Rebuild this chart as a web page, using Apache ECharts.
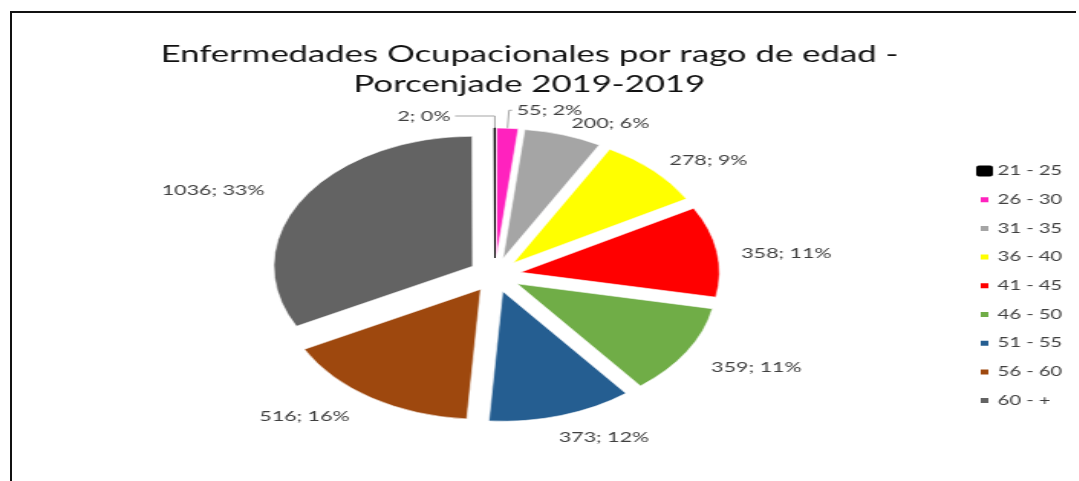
<!DOCTYPE html>
<html>
<head>
<meta charset="utf-8">
<script src="https://cdn.jsdelivr.net/npm/echarts@6/dist/echarts.min.js"></script>
<style>
  html, body { margin: 0; padding: 0; background: #fff; }
  #wrap { position: relative; width: 1079px; height: 481px; overflow: hidden; background: #fff; }
  /* the source picture is stretched sideways, so the chart is too */
  #chart { position: absolute; left: 0; top: 0; height: 481px; transform-origin: 0 0; }
  #frame { position: absolute; left: 10px; top: 11px; width: 1064px; height: 480px;
           border-top: 2px solid #111; border-left: 2px solid #111; }
</style>
</head>
<body>
<div id="wrap">
  <div id="frame"></div>
  <div id="chart"></div>
</div>
<script>
(function(){
    //datos del grafico
    var rangos = ['21 - 25', '26 - 30', '31 - 35', '36 - 40', '41 - 45', '46 - 50', '51 - 55', '56 - 60', '60 - +'];
    var casos = [2, 55, 200, 278, 358, 359, 373, 516, 1036];
    var colores = ['#000000', '#FF22BE', '#A5A5A5', '#FFFF00', '#FF0000', '#70AD47', '#255E91', '#9E480E', '#636363'];
    var titulo = 'Enfermedades Ocupacionales por rago de edad -\nPorcenjade 2019-2019';

    //pequeños ajustes de las etiquetas (px sin estirar)
    var ajusteX = [0, 0, -10, -8, -5, -4, -17, 3, -5];
    var ajusteY = [0, 0, -4, -4, 3, 12, 14, 12, -4];

    var S = 1.53;                 //estiramiento horizontal
    var W = Math.round(1079 / S);
    var el = document.getElementById('chart');
    el.style.width = W + 'px';
    el.style.transform = 'scaleX(' + S + ')';

    var datos = casos.map(function(v, i){
        var d = {
            name: rangos[i],
            value: v,
            selected: true,
            itemStyle: { color: colores[i] },
            labelLine: { show: i < 2 }
        };
        if(i == 0){
            d.itemStyle.borderColor = '#000';
            d.itemStyle.borderWidth = 1;
            d.labelLine.length = 12;
            d.labelLine.length2 = 26;
        }else if(i == 1){
            d.labelLine.length = 18;
            d.labelLine.length2 = 2;
        }
        return d;
    });

    var leyenda = rangos.map(function(r, i){
        return i == 0 ? { name: r, itemStyle: { borderColor: '#000', borderWidth: 4 } } : { name: r };
    });

    var myChart = echarts.init(el, null, { renderer: 'canvas' });
    myChart.setOption({
        animation: false,
        textStyle: { fontFamily: 'Lato' },
        title: {
            text: titulo,
            left: 341,
            top: 35,
            textAlign: 'center',
            textStyle: { fontFamily: 'Lato', fontSize: 22.7, fontWeight: 'normal', color: '#111', lineHeight: 30 }
        },
        legend: {
            orient: 'vertical',
            left: 633,
            top: 159.5,
            itemWidth: 7,
            itemHeight: 7,
            itemGap: 15.7,
            icon: 'rect',
            data: leyenda,
            textStyle: { fontFamily: 'Lato', fontSize: 13.2, color: '#404040' }
        },
        series: [{
            type: 'pie',
            center: [323.5, 275],
            radius: 130,
            startAngle: 90.15,
            selectedMode: 'multiple',
            selectedOffset: 17,
            percentPrecision: 0,
            avoidLabelOverlap: true,
            itemStyle: { borderColor: '#fff', borderWidth: 0.6 },
            label: {
                show: true,
                position: 'outside',
                formatter: '{c}; {d}%',
                fontFamily: 'Lato',
                fontSize: 14,
                color: '#404040',
                distanceToLabelLine: 3
            },
            labelLine: {
                length: 8,
                length2: 10,
                lineStyle: { color: '#A5A5A5', width: 1 }
            },
            labelLayout: function(p){
                return { dx: ajusteX[p.dataIndex], dy: ajusteY[p.dataIndex] };
            },
            emphasis: { disabled: true },
            data: datos
        }]
    });
})()
</script>
</body>
</html>
